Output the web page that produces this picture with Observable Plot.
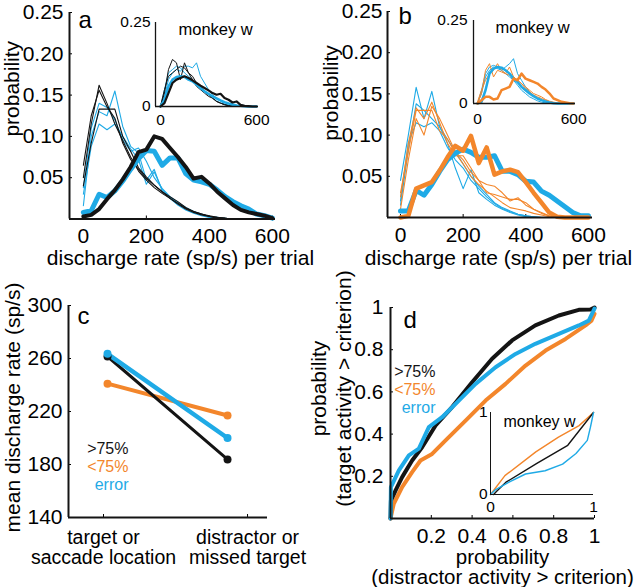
<!DOCTYPE html>
<html><head><meta charset="utf-8">
<script src="https://cdn.jsdelivr.net/npm/d3@7"></script>
<script src="https://cdn.jsdelivr.net/npm/@observablehq/plot@0.6"></script>
<style>
html,body{margin:0;padding:0;background:#fff;}
#fig{position:relative;width:640px;height:587px;overflow:hidden;background:#fff;}
</style></head><body><div id="fig"></div>
<script>
// ---------- DATA ----------
const bins = [0,25,50,75,100,125,150,175,200,225,250,275,300,325,350,375,400,425,450,475,500,525,550,575,600];
const histXTicks = [0,200,400,600];
const histYTicks = [0.05,0.10,0.15,0.20,0.25];
const insetXTicks = [0,600];
const insetYTicks = [0,0.25];

// panel a (main): target distributions (thick) and distractor distributions (thin)
const aTargetCorrect = [0.003,0.005,0.012,0.024,0.035,0.048,0.063,0.081,0.084,0.100,0.097,0.086,0.075,0.063,0.049,0.051,0.043,0.033,0.025,0.017,0.011,0.008,0.006,0.004,0.001];
const aTargetError   = [0.008,0.010,0.030,0.026,0.034,0.046,0.060,0.073,0.083,0.082,0.065,0.074,0.074,0.055,0.047,0.045,0.042,0.035,0.027,0.021,0.016,0.012,0.006,0.004,0.001];
const aDistCorrect1 = [0.050,0.115,0.162,0.140,0.115,0.095,0.075,0.058,0.047,0.038,0.031,0.025,0.019,0.013,0.009,0.006,0.003,0.002,0.001,0,0,0,0,0,0];
const aDistCorrect2 = [0.065,0.125,0.156,0.136,0.122,0.092,0.072,0.060,0.049,0.041,0.033,0.025,0.018,0.012,0.008,0.005,0.003,0.001,0.001,0,0,0,0,0,0];
const aDistCorrect3 = [0.040,0.092,0.133,0.133,0.133,0.100,0.082,0.062,0.051,0.041,0.033,0.027,0.021,0.014,0.009,0.006,0.004,0.002,0.001,0,0,0,0,0,0];
const aDistError1 = [0.016,0.100,0.130,0.125,0.155,0.112,0.088,0.080,0.047,0.060,0.034,0.025,0.017,0.011,0.007,0.004,0.002,0.001,0,0,0,0,0,0,0];
const aDistError2 = [0.030,0.088,0.115,0.108,0.115,0.100,0.085,0.072,0.042,0.057,0.036,0.026,0.019,0.013,0.008,0.005,0.003,0.001,0,0,0,0,0,0,0];
const aDistError3 = [0.038,0.110,0.140,0.135,0.120,0.096,0.082,0.086,0.070,0.050,0.037,0.027,0.020,0.014,0.009,0.006,0.003,0.002,0.001,0,0,0,0,0,0];

// panel a inset (monkey w)
const iaTargetCorrect = [0,0.010,0.040,0.070,0.080,0.085,0.090,0.085,0.078,0.070,0.062,0.055,0.048,0.040,0.035,0.038,0.025,0.020,0.012,0.015,0.005,0.002,0.001,0,0];
const iaTargetError   = [0,0.020,0.060,0.080,0.088,0.090,0.088,0.080,0.075,0.065,0.055,0.045,0.038,0.030,0.024,0.018,0.013,0.009,0.006,0.003,0.002,0.001,0,0,0];
const iaDistCorrect1 = [0,0.040,0.110,0.140,0.130,0.080,0.130,0.100,0.080,0.060,0.050,0.040,0.030,0.025,0.015,0.010,0.006,0.003,0.001,0,0,0,0,0,0];
const iaDistCorrect2 = [0,0.050,0.090,0.100,0.110,0.120,0.115,0.100,0.090,0.070,0.060,0.045,0.035,0.025,0.015,0.010,0.005,0.002,0,0,0,0,0,0,0];
const iaDistError1 = [0,0.030,0.080,0.100,0.110,0.105,0.120,0.120,0.115,0.130,0.090,0.070,0.050,0.035,0.025,0.015,0.008,0.004,0.002,0,0,0,0,0,0];
const iaDistError2 = [0,0.050,0.100,0.110,0.120,0.115,0.100,0.090,0.080,0.070,0.060,0.045,0.035,0.025,0.017,0.010,0.006,0.003,0,0,0,0,0,0,0];

// panel b (main)
const bTargetError = [0.008,0.008,0.033,0.027,0.040,0.056,0.070,0.078,0.083,0.079,0.073,0.073,0.075,0.056,0.056,0.052,0.044,0.043,0.032,0.027,0.020,0.013,0.006,0.002,0.002];
const bTargetLow   = [0.000,0.002,0.035,0.039,0.043,0.057,0.073,0.087,0.081,0.099,0.066,0.085,0.052,0.056,0.058,0.055,0.043,0.030,0.018,0.006,0.001,0,0,0,0];
const bDistError1 = [0.045,0.100,0.158,0.120,0.153,0.110,0.090,0.060,0.035,0.058,0.030,0.022,0.015,0.010,0.006,0.003,0.001,0,0,0,0,0,0,0,0];
const bDistError2 = [0.015,0.082,0.138,0.130,0.120,0.110,0.095,0.080,0.065,0.050,0.038,0.028,0.018,0.012,0.008,0.004,0.002,0.001,0,0,0,0,0,0,0];
const bDistError3 = [0.020,0.090,0.115,0.110,0.115,0.105,0.085,0.070,0.060,0.045,0.035,0.025,0.017,0.011,0.007,0.004,0.002,0.001,0,0,0,0,0,0,0];
const bDistLow1 = [0.025,0.090,0.133,0.120,0.140,0.115,0.090,0.075,0.075,0.060,0.045,0.030,0.028,0.025,0.022,0.022,0.018,0.010,0.005,0.002,0,0,0,0,0];
const bDistLow2 = [0.010,0.070,0.120,0.100,0.135,0.120,0.100,0.080,0.070,0.055,0.045,0.040,0.038,0.030,0.020,0.024,0.015,0.010,0.006,0.002,0.001,0,0,0,0];
const bDistLow3 = [0.030,0.080,0.130,0.130,0.130,0.105,0.095,0.078,0.065,0.050,0.040,0.032,0.025,0.018,0.012,0.010,0.008,0.005,0.003,0.001,0,0,0,0,0];

// panel b inset (monkey w)
const ibTargetLow   = [0,0.010,0.020,0.020,0.012,0.015,0.040,0.045,0.050,0.075,0.070,0.090,0.075,0.070,0.065,0.060,0.050,0.042,0.030,0.015,0.010,0.005,0.003,0.001,0];
const ibTargetError = [0,0.005,0.040,0.090,0.105,0.110,0.108,0.100,0.090,0.075,0.065,0.050,0.040,0.030,0.022,0.015,0.010,0.006,0.003,0.001,0,0,0,0,0];
const ibDistError1 = [0,0.030,0.080,0.100,0.110,0.105,0.100,0.110,0.120,0.135,0.090,0.070,0.050,0.035,0.025,0.015,0.010,0.005,0.002,0,0,0,0,0,0];
const ibDistError2 = [0,0.040,0.090,0.110,0.115,0.110,0.100,0.090,0.080,0.070,0.055,0.040,0.030,0.020,0.014,0.008,0.004,0.002,0,0,0,0,0,0,0];
const ibDistLow1 = [0,0.030,0.100,0.120,0.080,0.100,0.095,0.090,0.110,0.080,0.070,0.060,0.050,0.040,0.030,0.025,0.020,0.012,0.007,0.004,0.002,0,0,0,0];
const ibDistLow2 = [0.005,0.040,0.070,0.090,0.100,0.120,0.100,0.090,0.085,0.080,0.070,0.060,0.045,0.035,0.025,0.020,0.015,0.010,0.005,0.002,0,0,0,0,0];

// panel c
const cCategories = ["target or\nsaccade location", "distractor or\nmissed target"];
const cHigh  = [261.5, 183.8];
const cLow   = [241, 217];
const cError = [263.5, 200];
const cYTicks = [140,180,220,260,300];
const legendLabels = [">75%", "<75%", "error"];

// panel d (ROC)
const dHighX = [0,0.002,0.025,0.057,0.106,0.155,0.221,0.302,0.400,0.498,0.596,0.710,0.825,0.923,0.980,1];
const dHighY = [0,0.085,0.133,0.196,0.275,0.338,0.441,0.528,0.646,0.757,0.844,0.915,0.962,0.989,0.990,1];
const dErrX  = [0,0.002,0.041,0.090,0.139,0.188,0.253,0.335,0.417,0.515,0.613,0.710,0.825,0.923,0.972,1];
const dErrY  = [0,0.149,0.228,0.299,0.331,0.433,0.480,0.559,0.638,0.717,0.780,0.828,0.875,0.915,0.938,0.995];
const dLowX  = [0,0.016,0.057,0.106,0.147,0.204,0.270,0.368,0.466,0.564,0.662,0.760,0.858,0.956,0.985,1];
const dLowY  = [0,0.070,0.149,0.220,0.275,0.306,0.370,0.464,0.559,0.638,0.725,0.796,0.851,0.915,0.938,0.970];
const dTicks = [0.2,0.4,0.6,0.8,1];
// panel d inset
const idHighX = [0.03,0.06,0.15,0.45,0.75,1];
const idHighY = [0,0.04,0.15,0.38,0.60,1];
const idLowX  = [0,0.14,0.44,0.66,0.86,1];
const idLowY  = [0,0.23,0.52,0.70,0.84,1];
const idErrX  = [0,0.05,0.18,0.34,0.53,0.70,0.83,0.94,0.97,1];
const idErrY  = [0,0.06,0.15,0.25,0.29,0.37,0.50,0.66,0.82,1];
const idTicks = [0,1];

// ---------- DRAWING ----------
const FONT = "'Liberation Sans', Arial, Helvetica, sans-serif";
const BLUE = "#1faae6", ORANGE = "#f3862b", BLACK = "#141414";
const TITLE = 21;
const fig = document.getElementById("fig");
function place(svg, left, top) {
  svg.style.position = "absolute";
  svg.style.left = left + "px";
  svg.style.top = top + "px";
  fig.appendChild(svg);
}
function rows(xs, ys, name) { return xs.map((x, i) => ({x, y: ys[i], s: name})); }
function series(list) { return list.flatMap((arr, k) => rows(bins, arr, "s" + k)); }
const style = (size) => ({fontFamily: FONT, fontSize: size + "px", background: "transparent", overflow: "visible", color: "#000"});
const lineOpts = (stroke, w) => ({x: "x", y: "y", z: "s", stroke, strokeWidth: w, strokeLinejoin: "round", strokeLinecap: "round"});
const txt = (s, o) => Plot.text([s], {text: d => d, ...o});

// Panel a
{
  const xd = [-44, 610];
  place(Plot.plot({
    width: 320, height: 290, marginLeft: 69, marginRight: 45, marginTop: 12, marginBottom: 71.5,
    style: style(21),
    x: {domain: xd, label: null}, y: {domain: [0, 0.25], label: null},
    marks: [
      Plot.axisX({ticks: histXTicks, tickSize: -3, tickPadding: 12.5, tickFormat: d => String(d), label: null}),
      Plot.axisY({ticks: histYTicks, tickSize: -3, tickPadding: 9, tickFormat: d => d.toFixed(2), label: null}),
      Plot.line(series([aDistError1, aDistError2, aDistError3]), lineOpts(BLUE, 1.1)),
      Plot.line(series([aDistCorrect1, aDistCorrect2, aDistCorrect3]), lineOpts(BLACK, 1.1)),
      Plot.line(rows(bins, aTargetError, "e"), lineOpts(BLUE, 5)),
      Plot.line(rows(bins, aTargetCorrect, "c"), lineOpts(BLACK, 4)),
      Plot.ruleX([xd[0]], {stroke: BLACK, strokeWidth: 2}),
      Plot.ruleY([0], {stroke: BLACK, strokeWidth: 2}),
      txt("probability", {frameAnchor: "left", rotate: -90, textAnchor: "middle", lineAnchor: "middle", dx: -57, dy: -27, fontSize: 21}),
      txt("discharge rate (sp/s) per trial", {frameAnchor: "bottom", textAnchor: "middle", lineAnchor: "bottom", dx: 8, dy: 46, fontSize: TITLE}),
      txt("a", {frameAnchor: "top-left", textAnchor: "start", lineAnchor: "bottom", dx: 9, dy: 15, fontSize: 24})
    ]
  }), 0, 0);
}
// Panel a inset
{
  const xd = [-31, 612];
  place(Plot.plot({
    width: 180, height: 130, marginLeft: 55, marginRight: 22, marginTop: 12, marginBottom: 34,
    style: style(15.5),
    x: {domain: xd, label: null}, y: {domain: [0, 0.25], label: null},
    marks: [
      Plot.axisX({ticks: insetXTicks, tickSize: 0, tickPadding: 7, tickFormat: d => String(d), label: null}),
      Plot.axisY({ticks: insetYTicks, tickSize: 0, tickPadding: 5, tickFormat: d => d === 0 ? "0" : d.toFixed(2), label: null}),
      Plot.line(series([iaDistError1, iaDistError2]), lineOpts(BLUE, 1)),
      Plot.line(series([iaDistCorrect1, iaDistCorrect2]), lineOpts(BLACK, 1)),
      Plot.line(rows(bins, iaTargetError, "e"), lineOpts(BLUE, 2.5)),
      Plot.line(rows(bins, iaTargetCorrect, "c"), lineOpts(BLACK, 2.2)),
      Plot.ruleX([xd[0]], {stroke: BLACK, strokeWidth: 1.3}),
      Plot.ruleY([0], {stroke: BLACK, strokeWidth: 1.3}),
      txt("monkey w", {frameAnchor: "top-left", textAnchor: "start", lineAnchor: "bottom", dx: 23, dy: 12, fontSize: 16.5})
    ]
  }), 100, 10);
}
// Panel b
{
  const xd = [-41.5, 613];
  place(Plot.plot({
    width: 320, height: 290, marginLeft: 67, marginRight: 48, marginTop: 11, marginBottom: 73,
    style: style(21),
    x: {domain: xd, label: null}, y: {domain: [0, 0.25], label: null},
    marks: [
      Plot.axisX({ticks: histXTicks, tickSize: -3, tickPadding: 12.5, tickFormat: d => String(d), label: null}),
      Plot.axisY({ticks: histYTicks, tickSize: -3, tickPadding: 8, tickFormat: d => d.toFixed(2), label: null}),
      Plot.line(series([bDistError1, bDistError2, bDistError3]), lineOpts(BLUE, 1.1)),
      Plot.line(series([bDistLow1, bDistLow2, bDistLow3]), lineOpts(ORANGE, 1.1)),
      Plot.line(rows(bins, bTargetError, "e"), lineOpts(BLUE, 5)),
      Plot.line(rows(bins, bTargetLow, "l"), lineOpts(ORANGE, 4.5)),
      Plot.ruleX([xd[0]], {stroke: BLACK, strokeWidth: 2}),
      Plot.ruleY([0], {stroke: BLACK, strokeWidth: 2}),
      txt("probability", {frameAnchor: "left", rotate: -90, textAnchor: "middle", lineAnchor: "middle", dx: -56, dy: -21.5, fontSize: 21}),
      txt("discharge rate (sp/s) per trial", {frameAnchor: "bottom", textAnchor: "middle", lineAnchor: "bottom", dx: 8.5, dy: 47.5, fontSize: TITLE}),
      txt("b", {frameAnchor: "top-left", textAnchor: "start", lineAnchor: "bottom", dx: 11, dy: 12, fontSize: 24})
    ]
  }), 320, 0);
}
// Panel b inset
{
  const xd = [-25, 612];
  place(Plot.plot({
    width: 180, height: 125, marginLeft: 55, marginRight: 23, marginTop: 12, marginBottom: 30,
    style: style(15.5),
    x: {domain: xd, label: null}, y: {domain: [0, 0.25], label: null},
    marks: [
      Plot.axisX({ticks: insetXTicks, tickSize: 0, tickPadding: 9, tickFormat: d => String(d), label: null}),
      Plot.axisY({ticks: insetYTicks, tickSize: 0, tickPadding: 6, tickFormat: d => d === 0 ? "0" : d.toFixed(2), label: null}),
      Plot.line(series([ibDistError1, ibDistError2]), lineOpts(BLUE, 1)),
      Plot.line(series([ibDistLow1, ibDistLow2]), lineOpts(ORANGE, 1)),
      Plot.line(rows(bins, ibTargetError, "e"), lineOpts(BLUE, 2.5)),
      Plot.line(rows(bins, ibTargetLow, "l"), lineOpts(ORANGE, 2.5)),
      Plot.ruleX([xd[0]], {stroke: BLACK, strokeWidth: 1.3}),
      Plot.ruleY([0], {stroke: BLACK, strokeWidth: 1.3}),
      txt("monkey w", {frameAnchor: "top-left", textAnchor: "start", lineAnchor: "bottom", dx: 22, dy: 12, fontSize: 16.5})
    ]
  }), 418, 8);
}
// Panel c
{
  const xd = [-0.325, 1.333];
  const pts = [...rows([0, 1], cLow, "low"), ...rows([0, 1], cHigh, "high"), ...rows([0, 1], cError, "err")];
  const col = {low: ORANGE, high: BLACK, err: BLUE};
  const wid = {low: 4, high: 3, err: 4.5};
  const legendColors = [BLACK, ORANGE, BLUE];
  const legendDy = [148, 166, 184];
  place(Plot.plot({
    width: 320, height: 297, marginLeft: 68, marginRight: 53, marginTop: 15, marginBottom: 70,
    style: style(21),
    x: {domain: xd, label: null}, y: {domain: [140, 300], label: null},
    marks: [
      Plot.axisX([0], {tickSize: -3, tickPadding: 15, tickFormat: i => cCategories[i], lineHeight: 1.02, dx: -4, fontSize: 19.5, label: null}),
      Plot.axisX([1], {tickSize: -3, tickPadding: 15, tickFormat: i => cCategories[i], lineHeight: 1.02, dx: 20, fontSize: 19.5, label: null}),
      Plot.axisY({ticks: cYTicks, tickSize: -3, tickPadding: 9, label: null}),
      ...["low", "high", "err"].map(k => Plot.line(pts.filter(d => d.s === k), lineOpts(col[k], wid[k]))),
      ...["low", "high", "err"].map(k => Plot.dot(pts.filter(d => d.s === k), {x: "x", y: "y", r: 4, fill: col[k]})),
      Plot.ruleX([xd[0]], {stroke: BLACK, strokeWidth: 2}),
      Plot.ruleY([140], {stroke: BLACK, strokeWidth: 2}),
      txt("mean discharge rate (sp/s)", {frameAnchor: "left", rotate: -90, textAnchor: "middle", lineAnchor: "middle", dx: -55, dy: -4, fontSize: 21}),
      txt("c", {frameAnchor: "top-left", textAnchor: "start", lineAnchor: "bottom", dx: 9, dy: 18, fontSize: 24}),
      ...legendLabels.map((s, i) => txt(s, {frameAnchor: "top-left", textAnchor: "end", lineAnchor: "bottom", dx: 60, dy: legendDy[i], fill: legendColors[i], fontSize: 16}))
    ]
  }), 0, 290);
}
// Panel d
{
  const legendColors = [BLACK, ORANGE, BLUE];
  const legendDy = [69, 87, 105];
  place(Plot.plot({
    width: 320, height: 297, marginLeft: 70, marginRight: 46, marginTop: 17, marginBottom: 69,
    style: style(21),
    x: {domain: [0, 1], label: null}, y: {domain: [0, 1], label: null},
    marks: [
      Plot.axisX({ticks: dTicks, tickSize: -3, tickPadding: 13, tickFormat: d => d === 1 ? "1" : d.toFixed(1), label: null}),
      Plot.axisY({ticks: dTicks, tickSize: -3, tickPadding: 10, tickFormat: d => d === 1 ? "1" : d.toFixed(1), label: null}),
      Plot.line(rows(dLowX, dLowY, "l"), lineOpts(ORANGE, 4)),
      Plot.line(rows(dHighX, dHighY, "h"), lineOpts(BLACK, 4)),
      Plot.line(rows(dErrX, dErrY, "e"), lineOpts(BLUE, 4)),
      Plot.ruleX([0], {stroke: BLACK, strokeWidth: 2}),
      Plot.ruleY([0], {stroke: BLACK, strokeWidth: 2}),
      txt("probability", {frameAnchor: "left", rotate: -90, textAnchor: "middle", lineAnchor: "middle", dx: -71, dy: -24.5, fontSize: 21}),
      txt("(target activity > criterion)", {frameAnchor: "left", rotate: -90, textAnchor: "middle", lineAnchor: "middle", dx: -46, dy: -24.5, fontSize: 21}),
      txt("probability", {frameAnchor: "bottom", textAnchor: "middle", lineAnchor: "bottom", dx: 10, dy: 45, fontSize: 20.5}),
      txt("(distractor activity > criterion)", {frameAnchor: "bottom", textAnchor: "middle", lineAnchor: "bottom", dx: 10, dy: 65.5, fontSize: 20.5}),
      txt("d", {frameAnchor: "top-left", textAnchor: "start", lineAnchor: "bottom", dx: 13, dy: 20, fontSize: 24}),
      ...legendLabels.map((s, i) => txt(s, {frameAnchor: "top-left", textAnchor: "end", lineAnchor: "bottom", dx: 45, dy: legendDy[i], fill: legendColors[i], fontSize: 16}))
    ]
  }), 320, 290);
}
// Panel d inset
place(Plot.plot({
  width: 170, height: 120, marginLeft: 50, marginRight: 17, marginTop: 12, marginBottom: 26,
  style: style(15.5),
  x: {domain: [0, 1], label: null}, y: {domain: [0, 1], label: null},
  marks: [
    Plot.axisX({ticks: idTicks, tickSize: 0, tickPadding: 6, tickFormat: d => String(d), label: null}),
    Plot.axisY({ticks: idTicks, tickSize: 0, tickPadding: 3, tickFormat: d => String(d), label: null}),
    Plot.line(rows(idLowX, idLowY, "l"), lineOpts(ORANGE, 1.4)),
    Plot.line(rows(idHighX, idHighY, "h"), lineOpts(BLACK, 1.4)),
    Plot.line(rows(idErrX, idErrY, "e"), lineOpts(BLUE, 1.4)),
    Plot.ruleX([0], {stroke: BLACK, strokeWidth: 1}),
    Plot.ruleY([0], {stroke: BLACK, strokeWidth: 1}),
    txt("monkey w", {frameAnchor: "top-left", textAnchor: "start", lineAnchor: "bottom", dx: 13, dy: 14, fontSize: 16})
  ]
}), 440, 400);
</script></body></html>
